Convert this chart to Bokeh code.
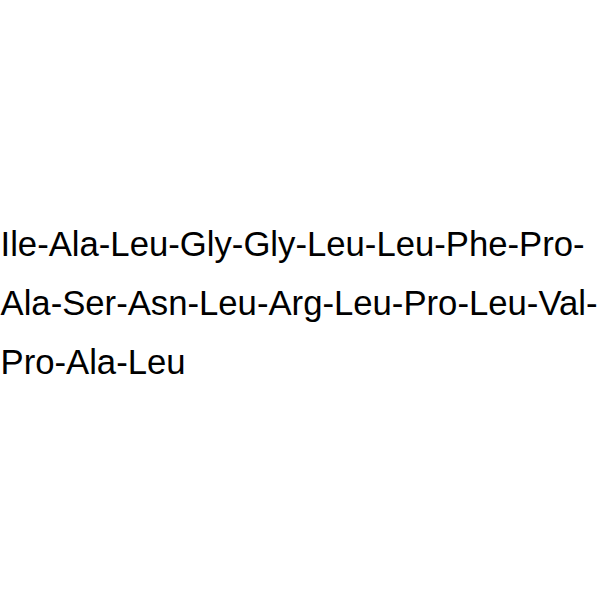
from bokeh.plotting import figure
from bokeh.models import Range1d, ColumnDataSource
from bokeh.core.properties import value
from bokeh.embed import file_html
from bokeh.resources import INLINE

lines = [
    "Ile-Ala-Leu-Gly-Gly-Leu-Leu-Phe-Pro-",
    "Ala-Ser-Asn-Leu-Arg-Leu-Pro-Leu-Val-",
    "Pro-Ala-Leu",
]
rows = list(range(len(lines)))

# canvas is shifted 8px to the left (page x = canvas x - 8), top stays at page y = 8
W, H = 608, 584
shift_x = 8
first_baseline = 251.5 - 8   # in canvas pixels
step = 58.9

p = figure(width=W, height=H, output_backend="svg", toolbar_location=None,
           x_range=Range1d(-shift_x, W - shift_x),
           y_range=Range1d(start=(H - first_baseline) / step, end=-first_baseline / step),
           min_border=0)
p.axis.visible = False
p.grid.visible = False
p.outline_line_color = None
p.background_fill_color = "white"
p.border_fill_color = "white"
p.styles = {"margin-left": "-8px"}

src = ColumnDataSource(dict(x=[0] * len(lines), y=rows, t=lines))
p.text(x="x", y="y", text="t", source=src,
       text_font=value("Liberation Sans"), text_font_size="34.7px",
       text_color="black", text_baseline="alphabetic", text_align="left")

open("out.html", "w").write(file_html(p, INLINE))
